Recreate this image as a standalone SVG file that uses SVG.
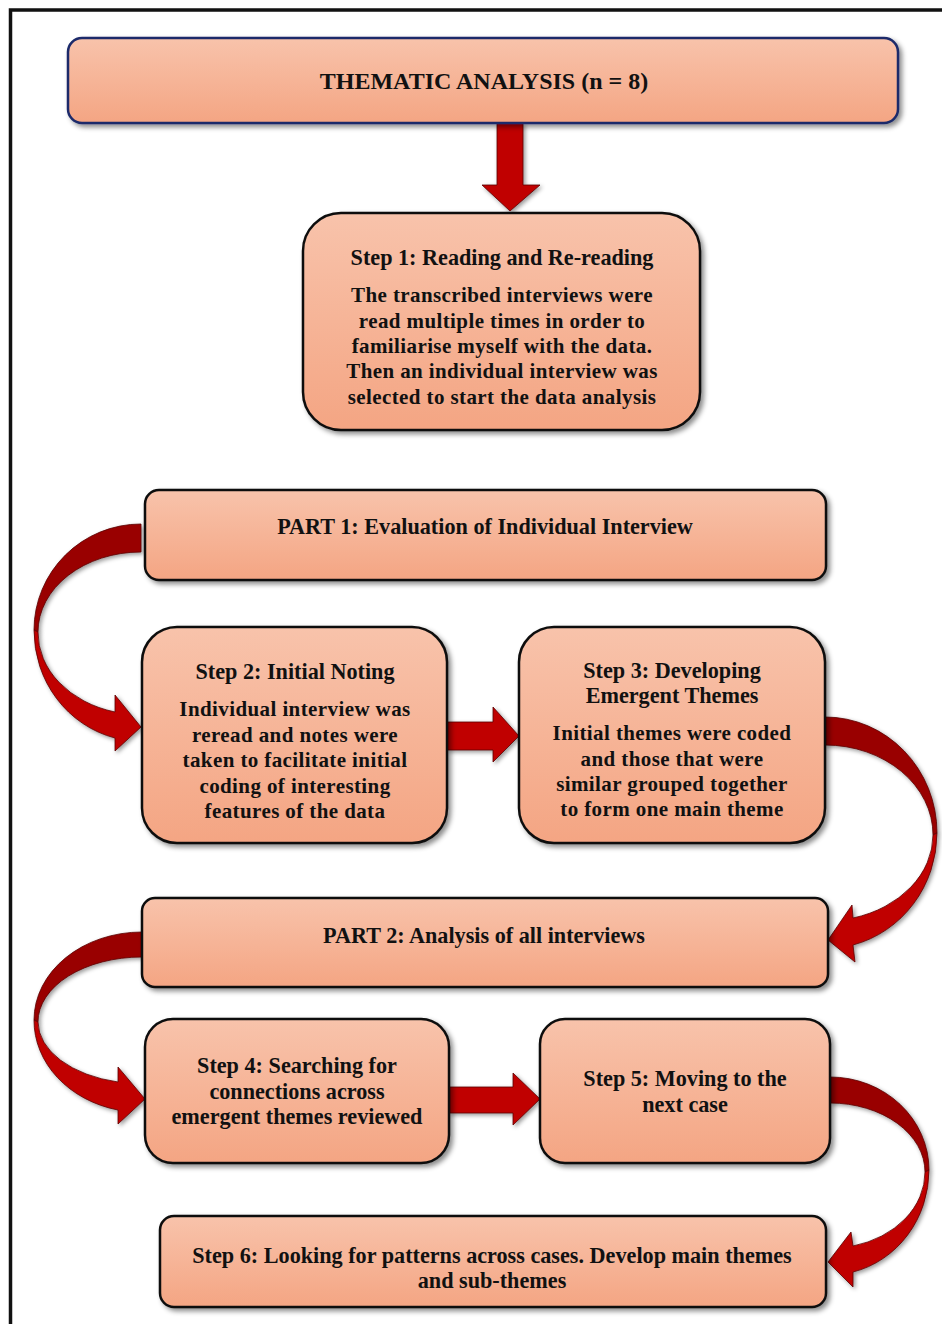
<svg xmlns="http://www.w3.org/2000/svg" width="942" height="1324" viewBox="0 0 942 1324">
  <defs>
    <linearGradient id="boxFill" x1="0" y1="0" x2="0" y2="1">
      <stop offset="0" stop-color="#f8c3ab"/>
      <stop offset="1" stop-color="#f4a583"/>
    </linearGradient>
    <filter id="shadow" x="-10%" y="-10%" width="130%" height="140%">
      <feDropShadow dx="3" dy="3" stdDeviation="2.5" flood-color="#000" flood-opacity="0.45"/>
    </filter>
    <filter id="ashadow" x="-20%" y="-20%" width="150%" height="150%">
      <feDropShadow dx="2" dy="2" stdDeviation="2" flood-color="#000" flood-opacity="0.4"/>
    </filter>
  </defs>
  <style>
    .box { fill: url(#boxFill); stroke: #111; stroke-width: 2.5; filter: url(#shadow); }
    .title { stroke: #1c2a6a; }
    text { font-family: "Liberation Serif", "Times New Roman", serif; font-weight: bold; fill: #111; text-anchor: middle; }
    .h { font-size: 22.2px; }
    .b { font-size: 21px; letter-spacing: 0.4px; }
    .arr { fill: #c00000; stroke: #5a0000; stroke-width: 0.8; filter: url(#ashadow); }
    .back { fill: #990000; stroke: #5a0000; stroke-width: 0.8; filter: url(#ashadow); }
  </style>

  <rect width="942" height="1324" fill="#fff"/>
  <!-- page frame -->
  <path d="M10.5,1324 V10 H942" fill="none" stroke="#111" stroke-width="3.5"/>

  <!-- connectors -->
  <g id="connectors">
    <!-- title to step 1 -->
    <path class="arr" d="M497,123 H523 V185 H540 L510,211 L482,185 H497 Z"/>
    <!-- part 1 to step 2 -->
    <path class="back" d="M141,524 A107,106 0 0 0 34,630 L38,632 A103,80 0 0 1 141,552 Z"/>
    <path class="arr" d="M34,630 A107,111 0 0 0 115,738 L115,751 L141,727 L115,695 L115,712 A103,82 0 0 1 38,632 Z"/>
    <!-- step 2 to step 3 -->
    <path class="arr" d="M447,722 H493 V707 L519,736 L493,762 V750 H447 Z"/>
    <!-- step 3 to part 2 -->
    <path class="back" d="M825,717 A112,116 0 0 1 937,833 L933,835 A108,90 0 0 0 825,745 Z"/>
    <path class="arr" d="M937,833 A112,116 0 0 1 853,945 L855,962 L828,940 L852,905 L853,918 A108,86 0 0 0 933,835 Z"/>
    <!-- part 2 to step 4 -->
    <path class="back" d="M142,932 A108,88 0 0 0 34,1020 L38,1022 A104,65 0 0 1 142,957 Z"/>
    <path class="arr" d="M34,1020 A108,92 0 0 0 118,1110 L118,1124 L145,1099 L118,1067 L118,1082 A104,62 0 0 1 38,1022 Z"/>
    <!-- step 4 to step 5 -->
    <path class="arr" d="M449,1087 H513 V1073 L540,1099 L513,1125 V1113 H449 Z"/>
    <!-- step 5 to step 6 -->
    <path class="back" d="M830,1077 A99,93 0 0 1 929,1170 L925,1172 A95,69 0 0 0 830,1103 Z"/>
    <path class="arr" d="M929,1170 A99,105 0 0 1 853,1272 L853,1287 L828,1262 L851,1232 L853,1246 A95,76 0 0 0 925,1172 Z"/>
  </g>

  <g id="title">
    <rect class="box title" x="68" y="38" width="830" height="85" rx="14"/>
    <text x="484" y="89" style="font-size:24px">THEMATIC ANALYSIS (n = 8)</text>
  </g>

  <g id="step1">
    <rect class="box" x="303" y="213" width="397" height="217" rx="38"/>
    <text class="h" x="502" y="265">Step 1: Reading and Re-reading</text>
    <text class="b" x="502" y="302">The transcribed interviews were</text>
    <text class="b" x="502" y="328">read multiple times in order to</text>
    <text class="b" x="502" y="353">familiarise myself with the data.</text>
    <text class="b" x="502" y="378">Then an individual interview was</text>
    <text class="b" x="502" y="404">selected to start the data analysis</text>
  </g>

  <g id="part1">
    <rect class="box" x="145" y="490" width="681" height="90" rx="14"/>
    <text class="h" x="485" y="534">PART 1: Evaluation of Individual Interview</text>
  </g>

  <g id="step2">
    <rect class="box" x="142" y="627" width="305" height="216" rx="35"/>
    <text class="h" x="295" y="679">Step 2: Initial Noting</text>
    <text class="b" x="295" y="716">Individual interview was</text>
    <text class="b" x="295" y="742">reread and notes were</text>
    <text class="b" x="295" y="767">taken to facilitate initial</text>
    <text class="b" x="295" y="793">coding of interesting</text>
    <text class="b" x="295" y="818">features of the data</text>
  </g>

  <g id="step3">
    <rect class="box" x="519" y="627" width="306" height="216" rx="35"/>
    <text class="h" x="672" y="678">Step 3: Developing</text>
    <text class="h" x="672" y="703">Emergent Themes</text>
    <text class="b" x="672" y="740">Initial themes were coded</text>
    <text class="b" x="672" y="766">and those that were</text>
    <text class="b" x="672" y="791">similar grouped together</text>
    <text class="b" x="672" y="816">to form one main theme</text>
  </g>

  <g id="part2">
    <rect class="box" x="142" y="898" width="686" height="89" rx="13"/>
    <text class="h" x="484" y="943">PART 2: Analysis of all interviews</text>
  </g>

  <g id="step4">
    <rect class="box" x="145" y="1019" width="304" height="144" rx="28"/>
    <text class="h" x="297" y="1073">Step 4: Searching for</text>
    <text class="h" x="297" y="1099">connections across</text>
    <text class="h" x="297" y="1124">emergent themes reviewed</text>
  </g>

  <g id="step5">
    <rect class="box" x="540" y="1019" width="290" height="144" rx="25"/>
    <text class="h" x="685" y="1086">Step 5: Moving to the</text>
    <text class="h" x="685" y="1112">next case</text>
  </g>

  <g id="step6">
    <rect class="box" x="160" y="1216" width="666" height="91" rx="14"/>
    <text class="h" x="492" y="1263">Step 6: Looking for patterns across cases. Develop main themes</text>
    <text class="h" x="492" y="1288">and sub-themes</text>
  </g>
</svg>
